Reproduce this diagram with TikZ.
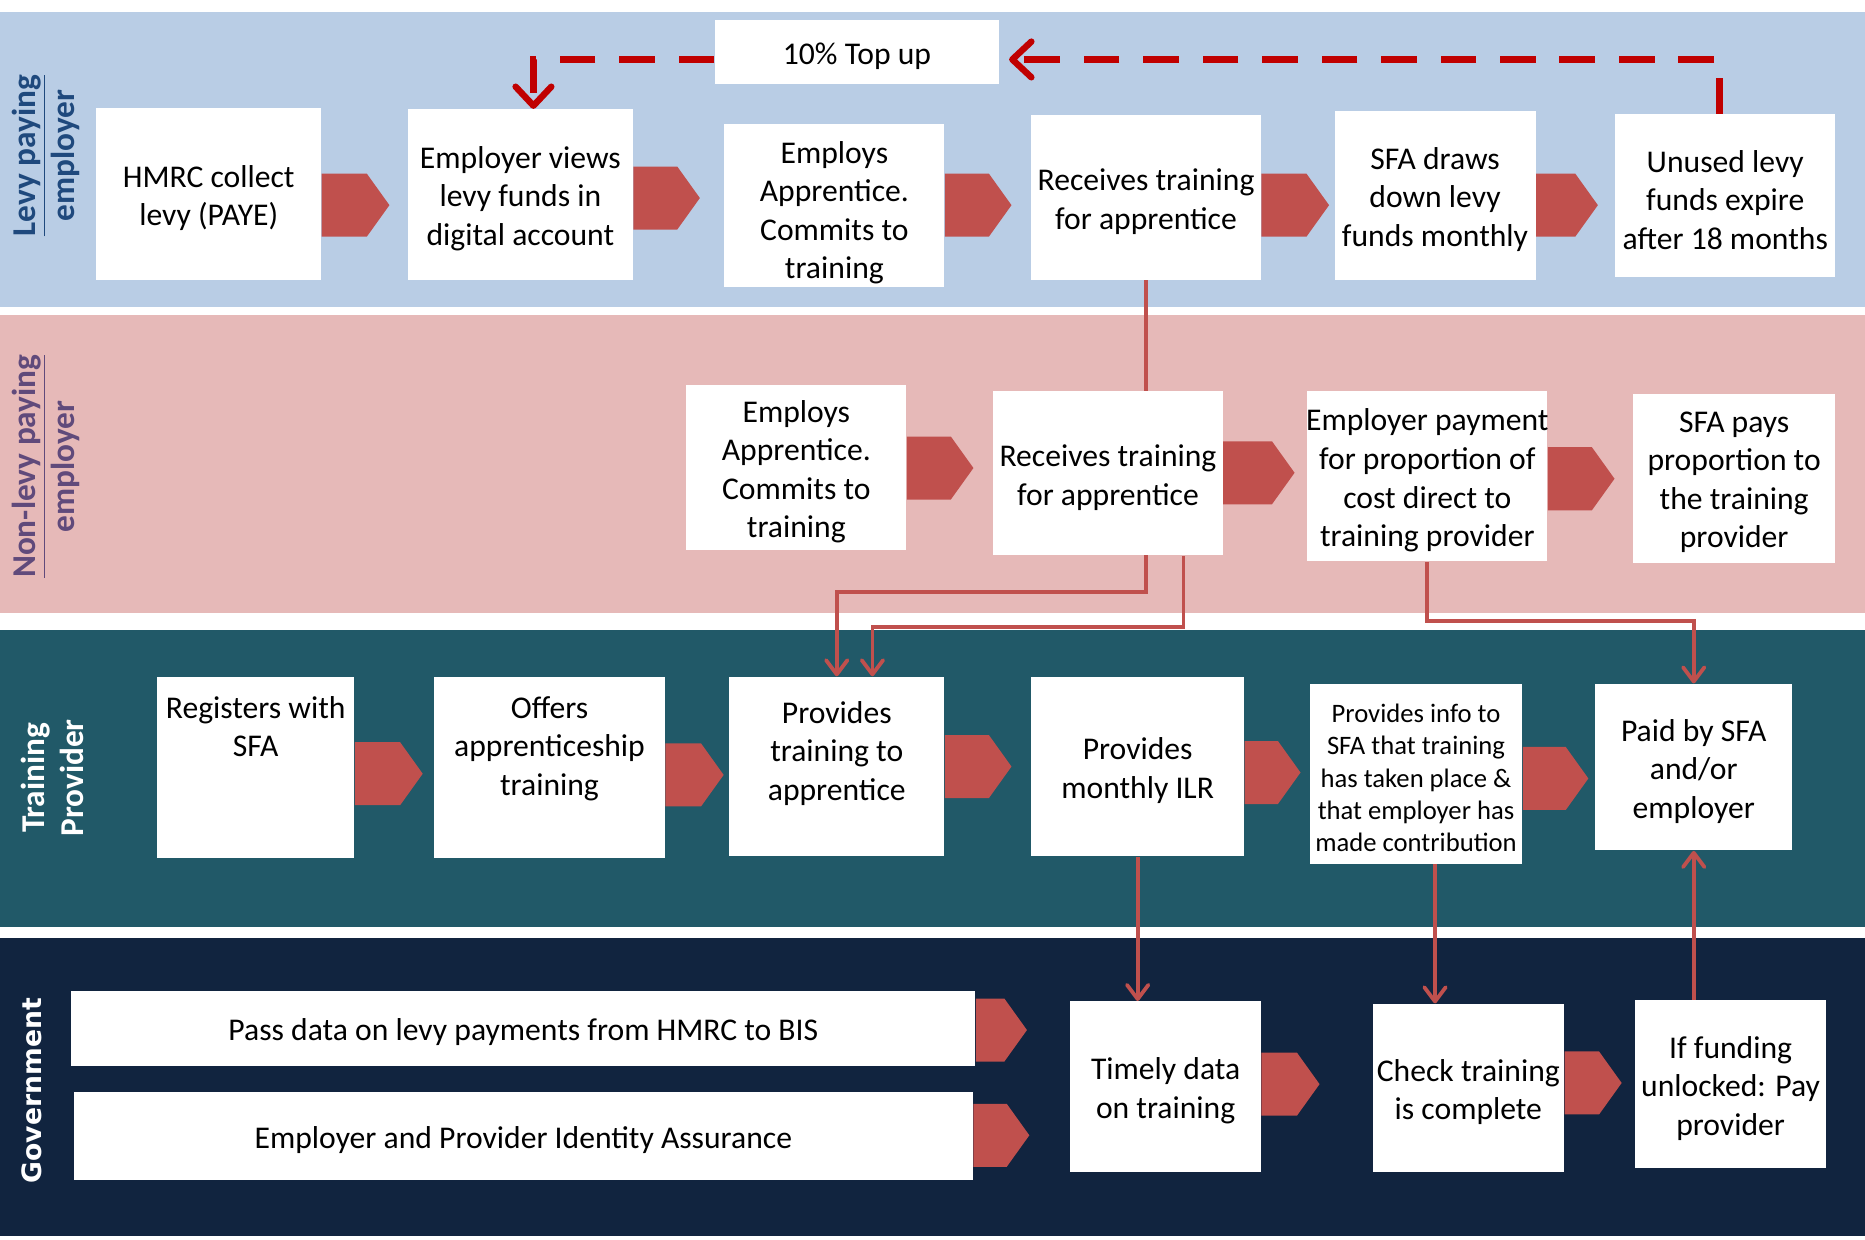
\documentclass[tikz,border=0pt]{standalone}
\usepackage{fontspec}
\setmainfont{Carlito}
\newfontfamily\govfont{DejaVu Sans}
\usetikzlibrary{arrows.meta,calc}

\pgfdeclarelayer{back}
\pgfdeclarelayer{mid}
\pgfsetlayers{back,mid,main}

\definecolor{levyblue}{RGB}{185,205,229}
\definecolor{nonlevypink}{RGB}{230,185,184}
\definecolor{provteal}{RGB}{33,89,104}
\definecolor{govnavy}{RGB}{17,36,63}
\definecolor{chevred}{RGB}{192,80,77}
\definecolor{topupred}{RGB}{192,0,0}
\definecolor{levytext}{RGB}{31,73,125}
\definecolor{nonlevytext}{RGB}{96,74,123}

\tikzset{
  procbox/.style={fill=white, inner sep=0pt},
  boxtext/.style={align=center, inner sep=0pt, yshift=-1.75pt, font=\fontsize{13.3}{16.2}\selectfont},
  chev/.style={fill=chevred},
  flow/.style={draw=chevred, line width=1.6pt, -{Straight Barb[length=6pt,width=9pt,round]}},
  topup/.style={draw=topupred, line width=2.7pt, dash pattern=on 15pt off 10pt, -{Straight Barb[length=8pt,width=15pt,round]}},
  lanelabel/.style={rotate=90, align=center, font=\bfseries\fontsize{14}{16.5}\selectfont},
}

% box from (x1,y1) to (x2,y2), picture pixels, y downwards
\newcommand{\procnode}[7][]{%
  \node[procbox, minimum width={(#4-#2)*0.5pt}, minimum height={(#5-#3)*0.5pt}] (#6) at ({(#2+#4)/2},{(#3+#5)/2}) {};
  \node[boxtext, #1] (#6-t) at (#6.center) {#7};
}
% same, text set at the top of the box
\newcommand{\proctop}[7][]{%
  \node[procbox, minimum width={(#4-#2)*0.5pt}, minimum height={(#5-#3)*0.5pt}] (#6) at ({(#2+#4)/2},{(#3+#5)/2}) {};
  \node[boxtext, anchor=north, #1] (#6-t) at ([yshift=-6.5pt]#6.north) {#7};
}
% chevron after a box: node, middle y, length
\newcommand{\chev}[3]{%
  \pgfmathsetmacro{\ctop}{#2-26.5}
  \pgfmathsetmacro{\cstr}{#3-19}
  \fill[chev] (#1.east |- 0,\ctop) -- ++(\cstr,0) -- ++(19,26.5) -- ++(-19,26.5) -- ++(-\cstr,0) -- cycle;
}

\begin{document}
\begin{tikzpicture}[x=0.5pt,y=-0.5pt]
\useasboundingbox (0,0) rectangle (1568,1042);

% swim lanes
\begin{pgfonlayer}{back}
\fill[levyblue] (0,10) rectangle (1568,258);
\fill[nonlevypink] (0,265) rectangle (1568,515);
\fill[provteal] (0,530) rectangle (1568,779);
\fill[govnavy] (0,789) rectangle (1568,1039);
\end{pgfonlayer}

\node[lanelabel, text=levytext] (levy) at (38.5,131) {\underline{Levy paying}\\employer};
\node[lanelabel, text=nonlevytext] (nonlevy) at (38.5,392) {\underline{Non-levy paying}\\employer};
\node[lanelabel, text=white] (prov) at (44,654) {Training\\Provider};
\node[lanelabel, text=white, font=\govfont\bfseries\fontsize{11.2}{13}\selectfont] (gov) at (27,917) {Government};

% levy paying employer
\procnode{81}{91}{270}{235}{hmrc}{HMRC collect\\levy (PAYE)}
\procnode{343}{92}{532}{235}{empv}{Employer views\\levy funds in\\digital account}
\procnode[yshift=-1.5pt]{609}{104}{794}{241}{empa}{Employs\\Apprentice.\\Commits to\\training}
\procnode{867}{97}{1060}{235}{recva}{Receives training\\for apprentice}
\procnode{1122}{93}{1291}{235}{sfad}{SFA draws\\down levy\\funds monthly}
\procnode{1358}{96}{1543}{233}{unused}{Unused levy\\funds expire\\after 18 months}
\procnode{601}{17}{840}{71}{topup}{10\% Top up}

% non-levy paying employer
\procnode{577}{324}{762}{462}{empb}{Employs\\Apprentice.\\Commits to\\training}
\procnode{835}{329}{1028}{467}{recvb}{Receives training\\for apprentice}
\procnode{1099}{329}{1301}{472}{payb}{Employer payment\\for proportion of\\cost direct to\\training provider}
\procnode{1373}{331}{1543}{473}{sfap}{SFA pays\\proportion to\\the training\\provider}

% training provider
\proctop{132}{569}{298}{721}{reg}{Registers with\\SFA}
\proctop{365}{569}{559}{721}{offer}{Offers\\apprenticeship\\training}
\proctop[yshift=-2pt]{613}{569}{794}{720}{provt}{Provides\\training to\\apprentice}
\procnode{867}{569}{1046}{720}{ilr}{Provides\\monthly ILR}
\procnode[font=\fontsize{11.2}{13.5}\selectfont]{1101}{575}{1280}{726}{info}{Provides info to\\SFA that training\\has taken place \&\\that employer has\\made contribution}
\procnode{1341}{575}{1507}{715}{paid}{Paid by SFA\\and/or\\employer}

% government
\procnode{60}{833}{820}{896}{pass}{Pass data on levy payments from HMRC to BIS}
\procnode{62}{918}{818}{992}{ident}{Employer and Provider Identity Assurance}
\procnode{900}{842}{1060}{985}{timely}{Timely data\\on training}
\procnode{1154}{844}{1315}{985}{check}{Check training\\is complete}
\procnode{1375}{841}{1535}{982}{fund}{If funding\\unlocked: Pay\\provider}

% chevrons
\foreach \src/\ym/\len in {hmrc/172.5/57, empv/166.5/56, empa/172.5/56, recva/172.5/57, sfad/172.5/52,
    empb/393.5/56, recvb/397.5/60, payb/402.5/56,
    reg/650.5/57, offer/651.5/49, provt/644.5/56, ilr/649.5/47, info/654.5/55,
    pass/866/43, ident/954.5/47, timely/911.5/49, check/910.5/48}
  {\chev{\src}{\ym}{\len}}

% connectors
\begin{pgfonlayer}{mid}
\draw[flow] (recva.south) -- ++(0,262) -| (provt.north);
\draw[flow] ($(recvb.south)+(63.5,0)$) -- ++(0,60) -| ($(provt.north)+(30,0)$);
\draw[flow] (payb.south) -- ++(0,50) -| (paid.north);
\draw[flow] (ilr.south) -- (ilr.south |- timely.north);
\draw[flow] ($(info.south)+(16,0)$) -- ($(info.south |- check.north)+(16,0)$);
\draw[flow] (paid.south |- fund.north) -- (paid.south);
\end{pgfonlayer}

% top up
\draw[topup] ([xshift=-2.5pt]unused.north) |- ([yshift=-3pt,xshift=4pt]topup.east);
\draw[topup] ([yshift=-3pt]topup.west) -| ([xshift=5.5pt]empv.north);
\end{tikzpicture}
\end{document}
